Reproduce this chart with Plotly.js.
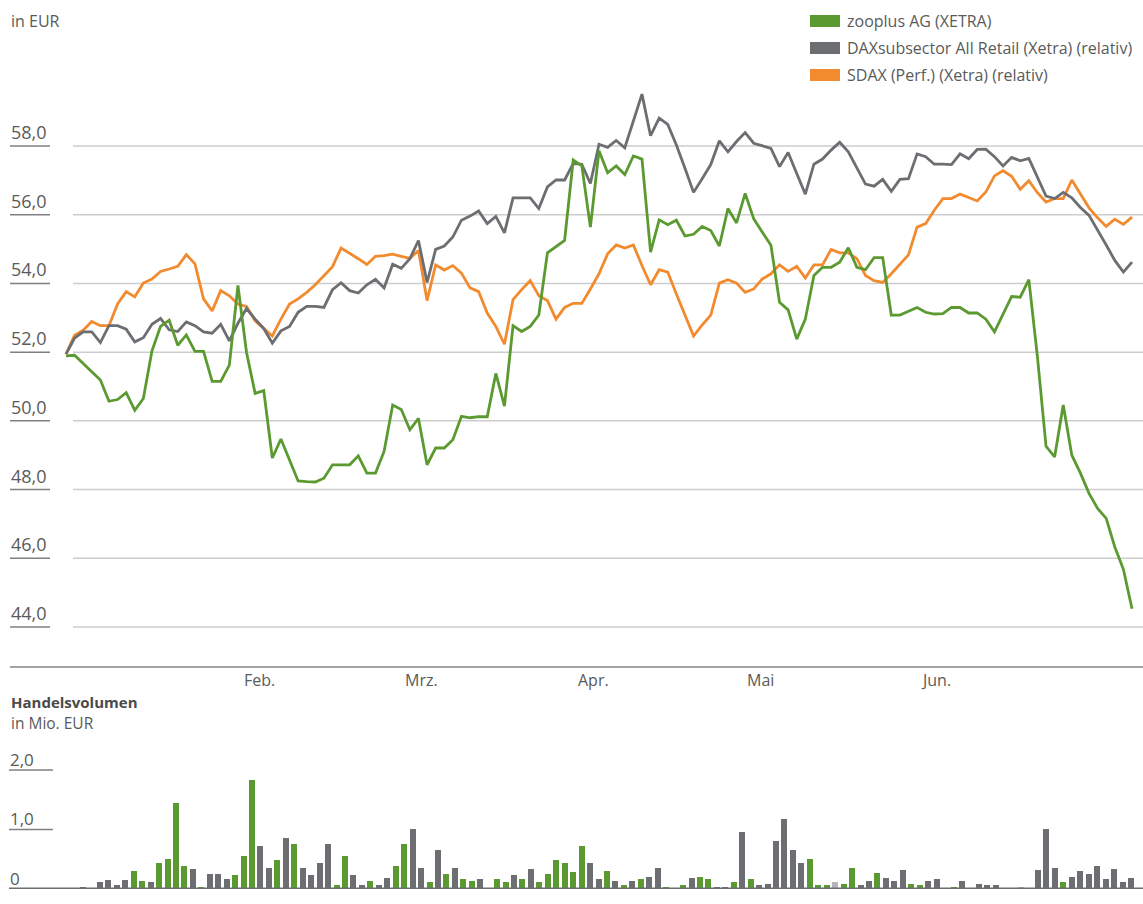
<!DOCTYPE html>
<html>
<head>
<meta charset="utf-8">
<script src="https://cdn.plot.ly/plotly-3.0.1.min.js"></script>
<style>
  html, body { margin: 0; padding: 0; background: #ffffff; }
  #chart { width: 1143px; height: 904px; }
</style>
</head>
<body>
<div id="chart"></div>
<script>
// ---------------- DATA ----------------
const seriesNames = ['zooplus AG (XETRA)', 'DAXsubsector All Retail (Xetra) (relativ)', 'SDAX (Perf.) (Xetra) (relativ)'];

const zooplus = [
  51.89,51.91,51.67,51.44,51.19,50.57,50.62,50.82,50.31,50.65,
  52.04,52.75,52.93,52.20,52.50,52.02,52.02,51.15,51.15,51.62,
  53.94,51.99,50.80,50.88,48.92,49.47,48.87,48.25,48.23,48.22,
  48.33,48.72,48.72,48.72,48.98,48.48,48.48,49.11,50.46,50.33,
  49.74,50.07,48.72,49.21,49.21,49.45,50.13,50.09,50.12,50.12,
  51.38,50.43,52.77,52.60,52.75,53.08,54.89,55.06,55.25,57.59,
  57.42,55.64,57.86,57.22,57.42,57.17,57.71,57.62,54.91,55.85,
  55.71,55.84,55.38,55.43,55.66,55.54,55.09,56.18,55.76,56.62,
  55.88,55.49,55.11,53.45,53.23,52.38,52.96,54.23,54.47,54.47,
  54.62,55.04,54.47,54.40,54.75,54.75,53.08,53.08,53.18,53.30,
  53.16,53.11,53.12,53.30,53.30,53.14,53.14,52.96,52.59,53.11,
  53.62,53.60,54.11,51.86,49.26,48.95,50.46,49.00,48.48,47.89,
  47.45,47.16,46.33,45.68,44.53
];

const daxRetail = [
  51.94,52.41,52.59,52.59,52.28,52.77,52.77,52.67,52.30,52.42,
  52.81,52.98,52.65,52.60,52.88,52.77,52.59,52.55,52.81,52.33,
  52.84,53.27,52.96,52.69,52.26,52.62,52.75,53.16,53.33,53.33,
  53.30,53.82,54.02,53.79,53.72,53.96,54.12,53.87,54.56,54.44,
  54.72,55.25,54.03,54.99,55.09,55.35,55.84,55.96,56.11,55.74,
  55.95,55.47,56.49,56.49,56.49,56.18,56.81,57.01,57.01,57.49,
  57.47,56.91,58.05,57.96,58.16,57.95,58.73,59.51,58.30,58.81,
  58.63,58.03,57.35,56.65,57.05,57.46,58.15,57.83,58.13,58.39,
  58.08,58.01,57.93,57.40,57.81,57.20,56.60,57.47,57.62,57.88,
  58.11,57.83,57.35,56.89,56.83,57.03,56.68,57.03,57.05,57.77,
  57.69,57.47,57.47,57.46,57.77,57.63,57.90,57.91,57.69,57.42,
  57.67,57.57,57.64,57.10,56.54,56.47,56.65,56.49,56.21,55.98,
  55.56,55.12,54.67,54.33,54.62
];

const sdax = [
  51.94,52.49,52.64,52.89,52.77,52.77,53.40,53.76,53.61,54.01,
  54.13,54.35,54.42,54.50,54.84,54.57,53.55,53.20,53.79,53.64,
  53.40,53.33,52.91,52.69,52.47,52.96,53.40,53.55,53.74,53.96,
  54.21,54.49,55.03,54.88,54.72,54.55,54.79,54.81,54.85,54.79,
  54.73,54.96,53.50,54.54,54.39,54.52,54.30,53.87,53.76,53.14,
  52.75,52.23,53.53,53.82,54.08,53.64,53.50,52.96,53.30,53.42,
  53.42,53.84,54.28,54.86,55.12,55.03,55.12,54.52,53.96,54.40,
  54.33,53.69,53.08,52.47,52.79,53.08,54.01,54.11,54.01,53.74,
  53.84,54.13,54.28,54.54,54.35,54.50,54.16,54.54,54.54,54.99,
  54.89,54.89,54.72,54.23,54.08,54.03,54.28,54.55,54.83,55.64,
  55.74,56.13,56.47,56.47,56.60,56.50,56.40,56.66,57.13,57.28,
  57.12,56.74,56.99,56.64,56.37,56.47,56.47,57.01,56.60,56.20,
  55.91,55.66,55.87,55.72,55.93
];

// Handelsvolumen in Mio. EUR
const volume = [
  0.04,0.01,0.11,0.15,0.06,0.15,0.31,0.13,0.11,0.43,
  0.51,1.44,0.38,0.33,0.04,0.25,0.26,0.17,0.23,0.56,
  1.83,0.72,0.35,0.49,0.85,0.75,0.35,0.23,0.43,0.75,
  0.06,0.56,0.24,0.06,0.14,0.06,0.19,0.38,0.75,1.01,
  0.36,0.11,0.66,0.26,0.36,0.17,0.14,0.17,0.01,0.17,
  0.12,0.24,0.17,0.34,0.12,0.26,0.48,0.43,0.29,0.73,
  0.44,0.17,0.31,0.14,0.07,0.14,0.17,0.21,0.36,0.04,
  0.02,0.06,0.19,0.21,0.17,0.04,0.04,0.11,0.95,0.17,
  0.07,0.09,0.81,1.17,0.66,0.44,0.51,0.06,0.06,0.11,
  0.09,0.36,0.06,0.14,0.27,0.19,0.14,0.32,0.09,0.06,
  0.14,0.17,0.00,0.04,0.14,0.00,0.09,0.07,0.07,0.02,
  0.01,0.04,0.02,0.32,1.01,0.36,0.11,0.21,0.31,0.26,
  0.38,0.16,0.34,0.11,0.19
];
// direction of the day: 1 = up, -1 = down, 0 = unchanged
const volumeDir = [
  -1,1,-1,-1,-1,-1,1,1,-1,1,
  1,1,1,-1,1,-1,-1,-1,1,1,
  1,-1,-1,1,-1,1,-1,-1,-1,-1,
  1,1,-1,-1,1,-1,-1,1,1,-1,
  -1,1,-1,1,-1,1,1,-1,1,1,
  1,-1,1,-1,1,1,1,1,1,1,
  -1,-1,1,-1,1,-1,1,-1,-1,1,
  -1,1,-1,1,1,-1,-1,1,-1,1,
  -1,-1,-1,-1,-1,-1,1,1,1,0,
  1,1,-1,-1,1,-1,-1,-1,1,1,
  -1,-1,-1,1,-1,-1,-1,-1,-1,1,
  1,0,1,-1,-1,-1,1,-1,-1,-1,
  -1,-1,-1,-1,-1
];

const monthLabels = ['Feb.', 'Mrz.', 'Apr.', 'Mai', 'Jun.'];
const monthTickPos = [22.45, 41.3, 61.4, 80.8, 101.2];
const priceTicks = [44, 46, 48, 50, 52, 54, 56, 58];
const volumeTicks = [0, 1, 2];

// ---------------- STYLE / LAYOUT ----------------
const W = 1143, H = 904;
const GREEN = '#5b9a31', GRAY = '#6d6e72', ORANGE = '#f28a2e', LIGHT = '#b5b5b9';
const TXT = '#5a5a5a';
const FONT = 'Open Sans, Noto Sans, sans-serif';
const px = x => x / W;          // pixel -> paper x
const py = y => 1 - y / H;      // pixel -> paper y
const fmt = v => (v === 0 ? '0' : v.toFixed(1).replace('.', ','));

// price plot geometry (pixels)
const lineX0 = 66, lineX1 = 1132;
const pxPerIdx = (lineX1 - lineX0) / (zooplus.length - 1);
const xa0 = -lineX0 / pxPerIdx, xa1 = xa0 + W / pxPerIdx;
const y58 = 146, y44 = 627, pxPerEur = (y44 - y58) / 14;
const priceBottom = 667;
const ya0 = 44 - (priceBottom - y44) / pxPerEur, ya1 = 58 + y58 / pxPerEur;

// volume plot geometry
const barX0 = 83, barX1 = 1131;
const pxPerBar = (barX1 - barX0) / (volume.length - 1);
const xb0 = -barX0 / pxPerBar, xb1 = xb0 + W / pxPerBar;
const volBase = 889, volTop = 740, pxPerMio = 59.5;

const idxLine = zooplus.map((_, i) => i);
const idxBar = volume.map((_, i) => i);
const barColors = volumeDir.map(d => d > 0 ? GREEN : (d < 0 ? GRAY : LIGHT));

const traces = [
  { x: idxLine, y: sdax, type: 'scatter', mode: 'lines', name: seriesNames[2],
    line: { color: ORANGE, width: 2.8 }, xaxis: 'x', yaxis: 'y', showlegend: false, hoverinfo: 'skip' },
  { x: idxLine, y: daxRetail, type: 'scatter', mode: 'lines', name: seriesNames[1],
    line: { color: GRAY, width: 2.8 }, xaxis: 'x', yaxis: 'y', showlegend: false, hoverinfo: 'skip' },
  { x: idxLine, y: zooplus, type: 'scatter', mode: 'lines', name: seriesNames[0],
    line: { color: GREEN, width: 2.8 }, xaxis: 'x', yaxis: 'y', showlegend: false, hoverinfo: 'skip' },
  { x: idxBar, y: volume, type: 'bar', name: 'Handelsvolumen',
    marker: { color: barColors, line: { width: 0 } }, width: 6 / pxPerBar,
    xaxis: 'x2', yaxis: 'y2', showlegend: false, hoverinfo: 'skip' }
];

const shapes = [];
const annotations = [];

// price gridlines, label underlines and labels
priceTicks.forEach(v => {
  shapes.push({ type: 'line', xref: 'paper', yref: 'y', x0: px(73), x1: 1, y0: v, y1: v,
    line: { color: '#cdcdcd', width: 1.5 }, layer: 'below' });
  shapes.push({ type: 'line', xref: 'paper', yref: 'y', x0: px(10), x1: px(50), y0: v, y1: v,
    line: { color: '#808080', width: 1.5 }, layer: 'below' });
  annotations.push({ xref: 'paper', yref: 'y', x: px(9), y: v, yshift: 14, xanchor: 'left', yanchor: 'middle',
    text: fmt(v), showarrow: false, font: { family: FONT, size: 18, color: TXT } });
});

// bottom line of the price chart
shapes.push({ type: 'line', xref: 'paper', yref: 'paper', x0: px(10), x1: 1, y0: py(priceBottom), y1: py(priceBottom),
  line: { color: '#a3a3a3', width: 2 } });

// month labels
monthLabels.forEach((m, i) => {
  annotations.push({ xref: 'x', yref: 'paper', x: monthTickPos[i], y: py(680), xanchor: 'center', yanchor: 'middle',
    text: m, showarrow: false, font: { family: FONT, size: 16, color: TXT } });
});

// volume ticks
volumeTicks.forEach(v => {
  if (v > 0) {
    shapes.push({ type: 'line', xref: 'paper', yref: 'y2', x0: px(9), x1: px(53), y0: v, y1: v,
      line: { color: '#808080', width: 1.5 } });
  }
  annotations.push({ xref: 'paper', yref: 'y2', x: px(8), y: v, yshift: 11, xanchor: 'left', yanchor: 'middle',
    text: fmt(v), showarrow: false, font: { family: FONT, size: 17, color: TXT } });
});
shapes.push({ type: 'line', xref: 'paper', yref: 'y2', x0: px(9), x1: 1, y0: 0, y1: 0,
  line: { color: '#6d6e71', width: 3 } });

// titles
annotations.push({ xref: 'paper', yref: 'paper', x: px(9), y: py(21), xanchor: 'left', yanchor: 'middle',
  text: 'in EUR', showarrow: false, font: { family: FONT, size: 16, color: TXT } });
annotations.push({ xref: 'paper', yref: 'paper', x: px(9), y: py(702), xanchor: 'left', yanchor: 'middle',
  text: '<b>Handelsvolumen</b>', showarrow: false, font: { family: FONT, size: 15, color: '#4a4a4a' } });
annotations.push({ xref: 'paper', yref: 'paper', x: px(9), y: py(723), xanchor: 'left', yanchor: 'middle',
  text: 'in Mio. EUR', showarrow: false, font: { family: FONT, size: 15.5, color: TXT } });

// legend (swatches + text)
const legendColors = [GREEN, GRAY, ORANGE];
const legendRows = [21, 48, 75];
seriesNames.forEach((n, i) => {
  const yc = legendRows[i];
  shapes.push({ type: 'rect', xref: 'paper', yref: 'paper', x0: px(810), x1: px(840), y0: py(yc - 6), y1: py(yc + 6),
    fillcolor: legendColors[i], line: { width: 0 } });
  annotations.push({ xref: 'paper', yref: 'paper', x: px(845), y: py(yc), xanchor: 'left', yanchor: 'middle',
    text: n, showarrow: false, font: { family: FONT, size: 16, color: TXT } });
});

const layout = {
  width: W, height: H,
  margin: { l: 0, r: 0, t: 0, b: 0, pad: 0 },
  paper_bgcolor: '#ffffff', plot_bgcolor: 'rgba(0,0,0,0)',
  showlegend: false,
  bargap: 0,
  xaxis: { domain: [0, 1], range: [xa0, xa1], anchor: 'y', showgrid: false, zeroline: false,
    showline: false, showticklabels: false, ticks: '' },
  yaxis: { domain: [py(priceBottom), 1], range: [ya0, ya1], anchor: 'x', showgrid: false, zeroline: false,
    showline: false, showticklabels: false, ticks: '' },
  xaxis2: { domain: [0, 1], range: [xb0, xb1], anchor: 'y2', showgrid: false, zeroline: false,
    showline: false, showticklabels: false, ticks: '' },
  yaxis2: { domain: [py(volBase), py(volTop)], range: [0, (volBase - volTop) / pxPerMio], anchor: 'x2',
    showgrid: false, zeroline: false, showline: false, showticklabels: false, ticks: '' },
  shapes: shapes,
  annotations: annotations,
  font: { family: FONT, color: TXT }
};

Plotly.newPlot('chart', traces, layout, { staticPlot: true, displayModeBar: false });
</script>
</body>
</html>
